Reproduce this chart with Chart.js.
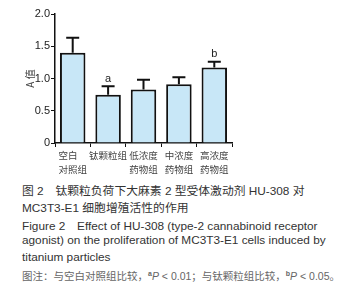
<!DOCTYPE html>
<html>
<head>
<meta charset="utf-8">
<script src="https://cdn.jsdelivr.net/npm/chart.js@4.4.0/dist/chart.umd.min.js"></script>
<style>
  body { margin: 0; background: #fff; width: 346px; height: 296px; overflow: hidden; }
  #wrap { position: absolute; left: 0; top: 0; width: 240px; height: 180px; }
  .cap { position: absolute; left: 22px; font-family: "Liberation Sans", Arial, "Noto Sans CJK SC", sans-serif; font-size: 11.8px; color: #333; white-space: nowrap; }
  .note { color: #666; font-size: 10.5px; }
  .note sup { font-size: 7px; font-weight: bold; }
</style>
</head>
<body>
<div id="wrap"><canvas id="fig2"></canvas></div>
<div class="cap" style="top:181px">图 2　钛颗粒负荷下大麻素 2 型受体激动剂 HU-308 对</div>
<div class="cap" style="top:198px">MC3T3-E1 细胞增殖活性的作用</div>
<div class="cap" style="top:216px">Figure 2　Effect of HU-308 (type-2 cannabinoid receptor</div>
<div class="cap" style="top:233px">agonist) on the proliferation of MC3T3-E1 cells induced by</div>
<div class="cap" style="top:250px">titanium particles</div>
<div class="cap note" style="top:268px">图注：与空白对照组比较，<sup>a</sup><i>P</i> &lt; 0.01；与钛颗粒组比较，<sup>b</sup><i>P</i> &lt; 0.05。</div>

<script>
  const groups = [['空白　', '对照组'], '钛颗粒组', ['低浓度', '药物组'], ['中浓度', '药物组'], ['高浓度', '药物组']];
  const meanA = [1.40, 0.75, 0.83, 0.91, 1.17];
  const errUp = [0.23, 0.13, 0.15, 0.11, 0.09];
  const sigMarks = ['', 'a', '', '', 'b'];
  const yTicks = [0, 0.5, 1.0, 1.5, 2.0];

  // upward-only error bars + significance letters
  const errorBars = {
    id: 'errorBars',
    afterDatasetsDraw(chart) {
      const { ctx, scales: { y } } = chart;
      const meta = chart.getDatasetMeta(0);
      ctx.save();
      ctx.strokeStyle = '#111';
      ctx.lineWidth = 2;
      meta.data.forEach((bar, i) => {
        const x = bar.x;
        const yTop = y.getPixelForValue(meanA[i] + errUp[i]);
        const yBase = y.getPixelForValue(meanA[i]);
        ctx.beginPath();
        ctx.moveTo(x, yBase);
        ctx.lineTo(x, yTop);
        ctx.moveTo(x - 6.5, yTop);
        ctx.lineTo(x + 6.5, yTop);
        ctx.stroke();
        if (sigMarks[i]) {
          ctx.fillStyle = '#222';
          ctx.font = '11px "Liberation Sans", Arial, sans-serif';
          ctx.textAlign = 'center';
          ctx.textBaseline = 'bottom';
          ctx.fillText(sigMarks[i], x, yTop - 2);
        }
      });
      ctx.restore();
    }
  };

  function initFig2() {
    const ctx = document.getElementById('fig2').getContext('2d');
    new Chart(ctx, {
      type: 'bar',
      data: {
        labels: groups,
        datasets: [{
          data: meanA,
          backgroundColor: '#c8e7f7',
          borderColor: '#111',
          borderWidth: 2,
          barPercentage: 0.72,
          categoryPercentage: 1
        }]
      },
      options: {
        responsive: true,
        maintainAspectRatio: false,
        animation: false,
        layout: { padding: { top: 14, right: 8, left: 24, bottom: 0 } },
        plugins: { legend: { display: false }, tooltip: { enabled: false } },
        scales: {
          x: {
            afterFit: axis => { axis.height = 37; },
            grid: { display: true, drawOnChartArea: false, drawTicks: true, tickLength: 4, color: '#111' },
            border: { display: true, color: '#111', width: 1.5 },
            ticks: { color: '#444', font: { family: '"Noto Sans CJK SC", serif', size: 9.5, lineHeight: 1.4 }, padding: 2, maxRotation: 0, autoSkip: false }
          },
          y: {
            min: 0,
            max: 2.0,
            afterBuildTicks: axis => { axis.ticks = yTicks.map(v => ({ value: v })); },
            afterFit: axis => { axis.width = 31; },
            grid: { display: true, drawOnChartArea: false, drawTicks: true, tickLength: 4, color: '#111' },
            border: { display: true, color: '#111', width: 1.5 },
            ticks: {
              color: '#222',
              padding: 1,
              font: { family: '"Liberation Sans", Arial, sans-serif', size: 11 },
              callback: v => v === 0 ? '0' : v.toFixed(1)
            },
            title: { display: true, text: 'A 值', color: '#444', padding: 0, font: { family: '"Noto Sans CJK SC", sans-serif', size: 10 } }
          }
        }
      },
      plugins: [errorBars]
    });
  }

  requestAnimationFrame(initFig2);
</script>
</body>
</html>
